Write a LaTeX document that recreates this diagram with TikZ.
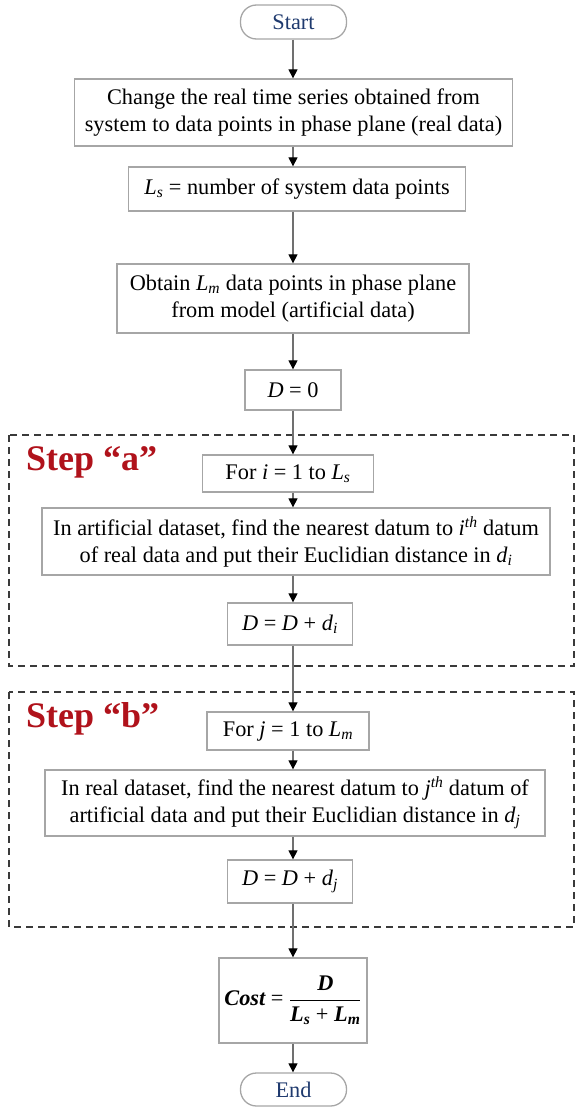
\documentclass[tikz,border=0pt]{standalone}
\usepackage{fix-cm}
\usepackage{fontspec}
\setmainfont{Liberation Serif}
\usetikzlibrary{arrows.meta}
\definecolor{boxgray}{HTML}{A6A6A6}
\definecolor{linegray}{HTML}{707070}
\definecolor{dashgray}{HTML}{3A3A3A}
\definecolor{termblue}{HTML}{1F3A6E}
\definecolor{stepred}{HTML}{B0121B}
\tikzset{
  procbox/.style={draw=boxgray, line width=1.3pt, align=center, inner sep=2pt,
    font=\fontsize{22.3}{27}\selectfont},
  termbox/.style={procbox, text=termblue, rounded corners=16pt},
  conn/.style={draw=linegray, line width=1.1pt,
    -{Triangle[length=9pt,width=9pt,color=black]}},
  groupbox/.style={draw=dashgray, line width=1.8pt, dash pattern=on 7pt off 5pt},
  steplabel/.style={text=stepred, font=\fontsize{36}{40}\selectfont\bfseries, anchor=base west, inner sep=0pt}
}
\newcommand{\vi}[1]{\textit{#1}}
\begin{document}
\begin{tikzpicture}[x=1pt,y=-1pt]
\useasboundingbox (0,0) rectangle (576,1108);
\coordinate (col) at (293,0);

\node[termbox, minimum width=106pt, minimum height=34pt] (start) at (293.5,22) {Start};
\node[procbox, minimum width=438pt, minimum height=67pt] (b1) at (293.5,112.5)
  {Change the real time series obtained from\\system to data points in phase plane (real data)};
\node[procbox, minimum width=337pt, minimum height=44pt] (b2) at (297,189)
  {\vi{L}\textsubscript{\vi{s}} = number of system data points};
\node[procbox, minimum width=352pt, minimum height=69pt] (b3) at (293,298.5)
  {Obtain \vi{L}\textsubscript{\vi{m}} data points in phase plane\\from model (artificial data)};
\node[procbox, minimum width=96pt, minimum height=40pt] (d0) at (293,390) {\vi{D} = 0};

\draw[groupbox] (9,435) rectangle (574,666);
\node[steplabel] (stepa) at (26,470) {Step “a”};
\node[procbox, minimum width=171pt, minimum height=37pt] (fori) at (288,473.5)
  {For \vi{i} = 1 to \vi{L}\textsubscript{\vi{s}}};
\node[procbox, minimum width=508pt, minimum height=67pt] (art) at (296,541.5)
  {In artificial dataset, find the nearest datum to \vi{i}\textsuperscript{\vi{th}} datum\\of real data and put their Euclidian distance in \vi{d}\textsubscript{\vi{i}}};
\node[procbox, minimum width=125pt, minimum height=42pt] (ddi) at (290,624)
  {\vi{D} = \vi{D} + \vi{d}\textsubscript{\vi{i}}};

\draw[groupbox] (9,692) rectangle (574,927);
\node[steplabel] (stepb) at (26,727) {Step “b”};
\node[procbox, minimum width=162pt, minimum height=38pt] (forj) at (288,731)
  {For \vi{j} = 1 to \vi{L}\textsubscript{\vi{m}}};
\node[procbox, minimum width=500pt, minimum height=66pt] (real) at (295,803)
  {In real dataset, find the nearest datum to \vi{j}\textsuperscript{\vi{th}} datum of\\artificial data and put their Euclidian distance in \vi{d}\textsubscript{\vi{j}}};
\node[procbox, minimum width=125pt, minimum height=43pt] (ddj) at (290,881.5)
  {\vi{D} = \vi{D} + \vi{d}\textsubscript{\vi{j}}};

\node[procbox, minimum width=148pt, minimum height=85pt] (cost) at (293,1000.5)
  {$\displaystyle \mbox{\bfseries\itshape Cost}\mbox{ = }\frac{\mbox{\bfseries\itshape D}}{\mbox{\bfseries\itshape L\textsubscript{s} \normalfont+ \bfseries\itshape L\textsubscript{m}}}$};
\node[termbox, minimum width=106pt, minimum height=33pt] (end) at (293.5,1089.5) {End};

\draw[conn] (start.south -| col) -- (b1.north -| col);
\draw[conn] (b1.south -| col) -- (b2.north -| col);
\draw[conn] (b2.south -| col) -- (b3.north -| col);
\draw[conn] (b3.south -| col) -- (d0.north -| col);
\draw[conn] (d0.south -| col) -- (fori.north -| col);
\draw[conn] (fori.south -| col) -- (art.north -| col);
\draw[conn] (art.south -| col) -- (ddi.north -| col);
\draw[conn] (ddi.south -| col) -- (forj.north -| col);
\draw[conn] (forj.south -| col) -- (real.north -| col);
\draw[conn] (real.south -| col) -- (ddj.north -| col);
\draw[conn] (ddj.south -| col) -- (cost.north -| col);
\draw[conn] (cost.south -| col) -- (end.north -| col);
\end{tikzpicture}
\end{document}
